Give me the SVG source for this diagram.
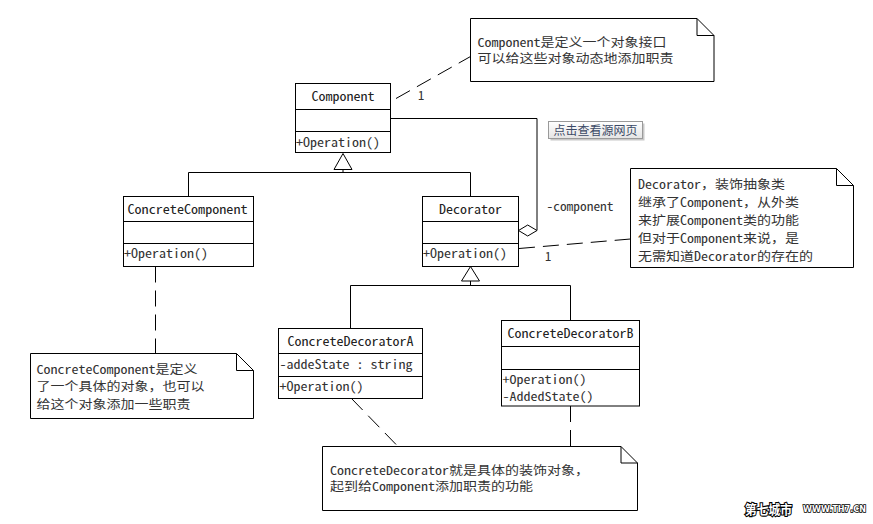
<svg xmlns="http://www.w3.org/2000/svg" width="873" height="524" viewBox="0 0 873 524">
<style>
  .box{fill:#fff;stroke:#000;stroke-width:1}
  .ln{fill:none;stroke:#000;stroke-width:1}
  .dash{fill:none;stroke:#000;stroke-width:1;stroke-dasharray:16 8}
  .tri{fill:#fff;stroke:#000;stroke-width:1}
  .t{font-family:"Noto Sans Mono CJK SC","Liberation Mono","Noto Sans CJK SC",monospace;font-size:13px;fill:#222}
  .m{font-family:"Noto Sans Mono CJK SC","Liberation Mono","Noto Sans CJK SC",monospace;font-size:12.5px;fill:#333}
  .n{font-family:"Noto Sans Mono CJK SC","Liberation Mono","Noto Sans CJK SC",monospace;font-size:12.5px;fill:#333}
  .s{font-size:12px}
  .c{text-anchor:middle}
</style>
<defs>
  <linearGradient id="btn" x1="0" y1="0" x2="0" y2="1">
    <stop offset="0" stop-color="#ffffff"/>
    <stop offset="1" stop-color="#e4e4e4"/>
  </linearGradient>
</defs>
<rect width="873" height="524" fill="#fff"/>

<g id="connectors">
  <path class="ln" d="M188.5,196.5 V172.5 H470.5 V196.5"/>
  <path class="ln" d="M343,169.5 V172.5"/>
  <polygon class="tri" points="343,153.5 334,169.5 352,169.5"/>
  <path class="ln" d="M350.5,328.5 V285.5 H570.5 V320.5"/>
  <path class="ln" d="M470.5,281 V285.5"/>
  <polygon class="tri" points="470.5,266.5 461.5,281 479.5,281"/>
  <path class="ln" d="M390,118.5 H537 V230.5"/>
  <polygon class="tri" points="518.5,230.5 527.7,225 537,230.5 527.7,236"/>
  <text class="m" x="546.5" y="211" textLength="67" lengthAdjust="spacingAndGlyphs">-component</text>
  <path class="dash" d="M396,98.5 L470.5,56.5"/>
  <text class="m" x="418" y="100">1</text>
  <path class="dash" d="M519,248.5 L630.5,239"/>
  <text class="m" x="545" y="261">1</text>
  <path class="dash" d="M155.5,266.5 V353.5"/>
  <path class="dash" d="M351.5,398.5 L398,446.5"/>
  <path class="dash" d="M570.5,406 V446.5"/>
</g>

<g id="Component">
  <rect class="box" x="295.5" y="83.5" width="95" height="69"/>
  <path class="ln" d="M295.5,109.5 H390.5 M295.5,131.5 H390.5"/>
  <text class="t c" x="343" y="101" textLength="63" lengthAdjust="spacingAndGlyphs">Component</text>
  <text class="m" x="296" y="146.5" textLength="84" lengthAdjust="spacingAndGlyphs">+Operation()</text>
</g>

<g id="ConcreteComponent">
  <rect class="box" x="123.5" y="196.5" width="130" height="70"/>
  <path class="ln" d="M123.5,221.5 H253.5 M123.5,243.5 H253.5"/>
  <text class="t c" x="187.5" y="214" textLength="120" lengthAdjust="spacingAndGlyphs">ConcreteComponent</text>
  <text class="m" x="124" y="258" textLength="84" lengthAdjust="spacingAndGlyphs">+Operation()</text>
</g>

<g id="Decorator">
  <rect class="box" x="422.5" y="196.5" width="96" height="70"/>
  <path class="ln" d="M422.5,221.5 H518.5 M422.5,243.5 H518.5"/>
  <text class="t c" x="470.5" y="214" textLength="63" lengthAdjust="spacingAndGlyphs">Decorator</text>
  <text class="m" x="423" y="258" textLength="84" lengthAdjust="spacingAndGlyphs">+Operation()</text>
</g>

<g id="ConcreteDecoratorA">
  <rect class="box" x="278.5" y="328.5" width="144" height="70"/>
  <path class="ln" d="M278.5,353.5 H422.5 M278.5,376.5 H422.5"/>
  <text class="t c" x="350.5" y="346" textLength="126" lengthAdjust="spacingAndGlyphs">ConcreteDecoratorA</text>
  <text class="m" x="279.5" y="369" textLength="133" lengthAdjust="spacingAndGlyphs">-addeState : string</text>
  <text class="m" x="279.5" y="391" textLength="84" lengthAdjust="spacingAndGlyphs">+Operation()</text>
</g>

<g id="ConcreteDecoratorB">
  <rect class="box" x="501.5" y="320.5" width="138" height="85.5"/>
  <path class="ln" d="M501.5,346.5 H639.5 M501.5,369.5 H639.5"/>
  <text class="t c" x="570.5" y="338" textLength="126" lengthAdjust="spacingAndGlyphs">ConcreteDecoratorB</text>
  <text class="m s" x="502.5" y="383.5" textLength="84" lengthAdjust="spacingAndGlyphs">+Operation()</text>
  <text class="m s" x="502.5" y="401" textLength="91" lengthAdjust="spacingAndGlyphs">-AddedState()</text>
</g>

<g id="NoteComponent">
  <path class="box" d="M470.5,18.5 H697 L714,35.5 V81.5 H470.5 Z"/>
  <path class="ln" d="M697,18.5 V35.5 H714"/>
  <text class="n s" x="477.5" y="46.5" textLength="189" lengthAdjust="spacingAndGlyphs">Component是定义一个对象接口</text>
  <text class="n s" x="477.5" y="63" textLength="196" lengthAdjust="spacingAndGlyphs">可以给这些对象动态地添加职责</text>
</g>

<g id="NoteDecorator">
  <path class="box" d="M630.5,168.5 H836.5 L853.5,185.5 V267.5 H630.5 Z"/>
  <path class="ln" d="M836.5,168.5 V185.5 H853.5"/>
  <text class="n" x="638" y="189" textLength="147" lengthAdjust="spacingAndGlyphs">Decorator，装饰抽象类</text>
  <text class="n" x="638" y="207" textLength="161" lengthAdjust="spacingAndGlyphs">继承了Component，从外类</text>
  <text class="n" x="638" y="225" textLength="161" lengthAdjust="spacingAndGlyphs">来扩展Component类的功能</text>
  <text class="n" x="638" y="243" textLength="161" lengthAdjust="spacingAndGlyphs">但对于Component来说，是</text>
  <text class="n" x="638" y="260.5" textLength="175" lengthAdjust="spacingAndGlyphs">无需知道Decorator的存在的</text>
</g>

<g id="NoteConcreteComponent">
  <path class="box" d="M30.5,353.5 H236.5 L253.5,370.5 V418.5 H30.5 Z"/>
  <path class="ln" d="M236.5,353.5 V370.5 H253.5"/>
  <text class="n s" x="36.5" y="374" textLength="161" lengthAdjust="spacingAndGlyphs">ConcreteComponent是定义</text>
  <text class="n s" x="36.5" y="391.2" textLength="168" lengthAdjust="spacingAndGlyphs">了一个具体的对象，也可以</text>
  <text class="n s" x="36.5" y="408.5" textLength="154" lengthAdjust="spacingAndGlyphs">给这个对象添加一些职责</text>
</g>

<g id="NoteConcreteDecorator">
  <path class="box" d="M322.5,446.5 H621 L637.5,463 V510.5 H322.5 Z"/>
  <path class="ln" d="M621,446.5 V463 H637.5"/>
  <text class="n s" x="330" y="474.5" textLength="259" lengthAdjust="spacingAndGlyphs">ConcreteDecorator就是具体的装饰对象，</text>
  <text class="n s" x="330" y="491" textLength="203" lengthAdjust="spacingAndGlyphs">起到给Component添加职责的功能</text>
</g>

<g id="button">
  <rect x="550.5" y="123.5" width="94" height="17" fill="#c8c8c8"/>
  <rect x="548.5" y="121.5" width="94" height="17" fill="url(#btn)" stroke="#9a9a9a"/>
  <text x="595.5" y="134.5" text-anchor="middle" font-family="Noto Sans CJK SC, sans-serif" font-size="12" fill="#3c4a66" textLength="84" lengthAdjust="spacingAndGlyphs">点击查看源网页</text>
</g>

<g id="watermark">
  <text x="745" y="513.5" font-family="Noto Sans CJK SC, sans-serif" font-weight="bold" font-size="13" fill="#fff" stroke="#000" stroke-width="2.2" paint-order="stroke" textLength="47" lengthAdjust="spacingAndGlyphs">第七城市</text>
  <text x="803" y="512" font-family="DejaVu Sans, sans-serif" font-weight="bold" font-size="9" fill="#fff" stroke="#000" stroke-width="1.6" paint-order="stroke" textLength="63" lengthAdjust="spacingAndGlyphs">WWW.TH7.CN</text>
</g>
</svg>
